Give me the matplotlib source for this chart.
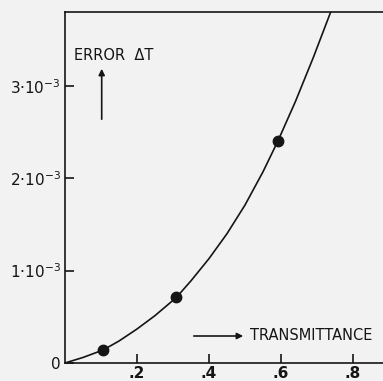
import matplotlib
matplotlib.use("Agg")
import matplotlib.pyplot as plt

# measured points
t_points = [0.106, 0.309, 0.591]
err_points = [0.14e-3, 0.71e-3, 2.40e-3]

# smooth curve through the measurements
t_curve = [0.0, 0.05, 0.106, 0.15, 0.2, 0.25, 0.309, 0.35, 0.4, 0.45,
           0.5, 0.55, 0.591, 0.64, 0.69, 0.738]
err_curve = [0.0, 0.06e-3, 0.141e-3, 0.238e-3, 0.368e-3, 0.513e-3, 0.708e-3,
             0.89e-3, 1.13e-3, 1.40e-3, 1.71e-3, 2.07e-3, 2.40e-3,
             2.83e-3, 3.31e-3, 3.80e-3]

x_ticks = [0.2, 0.4, 0.6, 0.8]
x_labels = [".2", ".4", ".6", ".8"]
y_ticks = [0.0, 1e-3, 2e-3, 3e-3]
y_labels = ["0", "1·10$^{-3}$", "2·10$^{-3}$", "3·10$^{-3}$"]

BG = "#f2f2f2"
INK = "#151515"

W, H = 383, 381
fig = plt.figure(figsize=(W / 100, H / 100), dpi=100, facecolor=BG)
ax = fig.add_axes([65 / W, (H - 363) / H, (W - 65) / W, (363 - 12) / H])
ax.set_facecolor(BG)

ax.plot(t_curve, err_curve, color=INK, lw=1.2, solid_joinstyle="round")
ax.plot(t_points, err_points, "o", color=INK, ms=7.5)

ax.set_xlim(0, (W - 65) / 360)
ax.set_ylim(0, 3.80e-3)

for side in ["top", "left", "bottom"]:
    ax.spines[side].set_color(INK)
    ax.spines[side].set_linewidth(1.2)
ax.spines["right"].set_visible(False)

ax.set_xticks(x_ticks)
ax.set_xticklabels(x_labels, fontsize=11, fontweight="bold")
ax.set_yticks(y_ticks)
ax.set_yticklabels(y_labels, fontsize=11)
ax.tick_params(direction="in", length=6.5, width=1.2, color=INK, labelcolor=INK)
ax.tick_params(axis="x", pad=2)
ax.tick_params(axis="y", pad=3)

# axis captions with arrows
fig.text(74 / W, 1 - 55 / H, "ERROR  ΔT", fontsize=10.5, color=INK,
         va="center", ha="left")
ax.annotate("", xy=(101.7, H - 66), xytext=(101.7, H - 122),
            xycoords="figure pixels", textcoords="figure pixels",
            arrowprops=dict(arrowstyle="-|>", color=INK, lw=1.2,
                            mutation_scale=9))

fig.text(250 / W, 1 - 336 / H, "TRANSMITTANCE", fontsize=10.5, color=INK,
         va="center", ha="left")
ax.annotate("", xy=(246, H - 336), xytext=(191, H - 336),
            xycoords="figure pixels", textcoords="figure pixels",
            arrowprops=dict(arrowstyle="-|>", color=INK, lw=1.2,
                            mutation_scale=9))

fig.savefig("out.png", dpi=100, facecolor=BG)
